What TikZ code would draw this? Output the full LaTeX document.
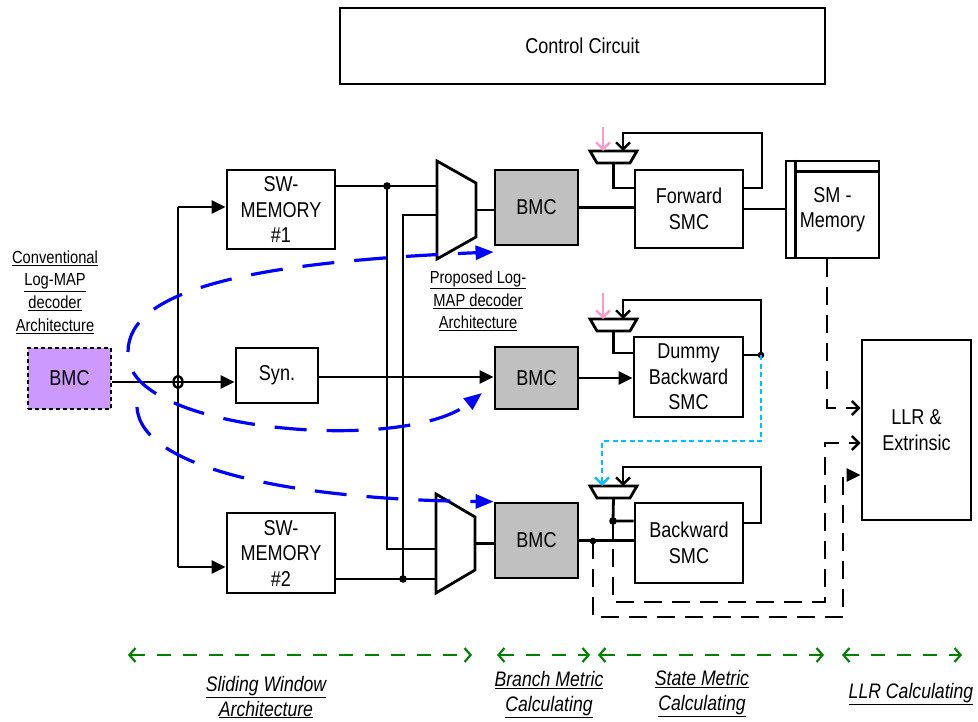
\documentclass[tikz,border=0pt]{standalone}
\usepackage{fontspec}
\setmainfont{Liberation Sans}[FakeStretch=0.84]
\usetikzlibrary{arrows.meta,calc}

\definecolor{bmcgray}{RGB}{192,192,192}
\definecolor{lilac}{RGB}{204,153,255}
\definecolor{feedpink}{RGB}{255,153,204}
\definecolor{skyline}{RGB}{0,190,255}
\definecolor{flowblue}{RGB}{0,0,255}
\definecolor{stagegreen}{RGB}{0,128,0}

\begin{document}
\begin{tikzpicture}[x=1pt,y=-1pt,
  wire/.style={line width=2.8pt},
  blk/.style={draw, line width=2.8pt, inner sep=0pt, align=center,
    font=\fontsize{21.5}{25.5}\selectfont},
  bmcblk/.style={blk, fill=bmcgray, minimum width=83pt},
  port/.style={inner sep=0pt, outer sep=0pt, minimum width=39pt},
  smux/.style={inner sep=0pt, outer sep=0pt, minimum width=47pt, minimum height=12pt},
  fat/.style={-{Triangle[length=14pt,width=13pt]}},
  barb/.style={-{Straight Barb[length=7pt,width=14pt,line width=2.4pt]}},
  dashline/.style={wire, dash pattern=on 18pt off 10pt},
  feed/.style={feedpink, line width=2.4pt, barb},
  flow/.style={flowblue, line width=3.2pt, dash pattern=on 32pt off 20pt,
    -{Triangle[length=18pt,width=14pt]}},
  stage/.style={stagegreen, line width=2.6pt, dash pattern=on 14pt off 12pt,
    {Straight Barb[length=6pt,width=14pt,line width=2.2pt]}-{Straight Barb[length=6pt,width=14pt,line width=2.2pt]}},
  note/.style={align=center, font=\fontsize{17.5}{22.7}\selectfont},
  caption/.style={align=center, font=\itshape\fontsize{21}{25}\selectfont},
]
\useasboundingbox (0,0) rectangle (978,722);

% ---------- blocks ----------
\node[blk, minimum width=485pt, minimum height=76pt] (ctrl) at (582.5,46) {Control Circuit};

\node[blk, dash pattern=on 4pt off 3pt, fill=lilac, minimum width=83pt, minimum height=61pt] (lbmc) at (69.5,378.5) {BMC};
\node[blk, minimum width=108pt, minimum height=79pt] (mem1) at (281,209.5) {SW-\\MEMORY\\\#1};
\node[blk, minimum width=82pt, minimum height=55pt] (syn) at (277,375.5) {Syn.};
\node[blk, minimum width=108pt, minimum height=80pt] (mem2) at (281,553) {SW-\\MEMORY\\\#2};

\node[bmcblk, minimum height=75pt] (bmc1) at (536.5,207.5) {BMC};
\node[bmcblk, minimum height=62pt] (bmc2) at (536.5,378) {BMC};
\node[bmcblk, minimum height=75pt] (bmc3) at (536.5,540.5) {BMC};

\node[blk, minimum width=108pt, minimum height=78pt] (fwd) at (689,209) {Forward\\SMC};
\node[blk, minimum width=109pt, minimum height=80pt] (dum) at (688.5,377) {Dummy\\Backward\\SMC};
\node[blk, minimum width=108pt, minimum height=80pt] (bwd) at (689,543) {Backward\\SMC};

\node[blk, minimum width=93pt, minimum height=97pt] (smm) at (832.5,209.5) {SM -\\Memory};
\draw[wire] ([xshift=11pt]smm.north west) -- ([xshift=11pt]smm.south west);
\draw[wire] ([xshift=11pt,yshift=-12pt]smm.north west) -- ([yshift=-12pt]smm.north east);

\node[blk, minimum width=109pt, minimum height=180pt] (llr) at (916.5,430) {LLR \&\\Extrinsic};

% ---------- multiplexers ----------
\node[port, minimum height=98pt] (mux1) at (456.5,210) {};
\draw[wire] (mux1.north west) -- ([yshift=-22pt]mux1.north east)
  -- ([yshift=22pt]mux1.south east) -- (mux1.south west) -- cycle;
\node[port, minimum height=99pt] (mux2) at (455.5,543.5) {};
\draw[wire] (mux2.north west) -- ([yshift=-23pt]mux2.north east)
  -- ([yshift=23pt]mux2.south east) -- (mux2.south west) -- cycle;

\foreach \m/\yy in {fmux/157, dmux/325, bmux/492}{
  \node[smux] (\m) at (613.5,\yy) {};
  \draw[wire] (\m.north west) -- (\m.north east)
    -- ([xshift=-7pt]\m.south east) -- ([xshift=7pt]\m.south west) -- cycle;
}

% ---------- sliding window input side ----------
\coordinate (busT) at (178,207);
\coordinate (busB) at (178,567);
\coordinate (hub) at (178,382);
\draw[wire] (busT) -- (busB);
\draw[wire, fat] (busT) -- (mem1.west |- busT);
\draw[wire, fat] (busB) -- (mem2.west |- busB);
\draw[wire, fat] (lbmc.east |- hub) -- (syn.west |- hub);
\draw[line width=2.4pt] (hub) ellipse (4.5pt and 6pt);

\coordinate (j1) at (387,186);
\coordinate (j2) at (403,579);
\draw[wire] (mem1.east |- j1) -- (mux1.west |- j1);
\draw[wire] (j1) -- (j1 |- 0,549) -- (mux2.west |- 0,549);
\draw[wire] (mem2.east |- j2) -- (mux2.west |- j2);
\draw[wire] (j2) -- (j2 |- 0,215) -- (mux1.west |- 0,215);
\fill (j1) circle (3.8pt);
\fill (j2) circle (3.8pt);

\draw[wire] (mux1.east) -- (bmc1.west |- mux1.east);
\draw[wire] (mux2.east) -- (bmc3.west |- mux2.east);
\draw[wire, fat] (syn.east |- 0,377) -- (bmc2.west |- 0,377);

% ---------- branch metric to state metric ----------
\draw[wire] (bmc1.east) -- (fwd.west |- bmc1.east);
\draw[wire, fat] (bmc2.east) -- (dum.west |- bmc2.east);
\draw[wire] (bmc3.east) -- (bwd.west |- bmc3.east);
\draw[wire] (fwd.east) -- (smm.west |- fwd.east);

% forward recursion loop
\draw[wire] (fmux.south) -- (fmux.south |- 0,188) -- (fwd.west |- 0,188);
\draw[wire, barb] (fwd.east |- 0,188) -- (762,188) -- (762,133) -- (623,133) -- (fmux.north -| 623,0);
\draw[feed] (603,127) -- (fmux.north -| 603,0);

% dummy backward recursion loop
\coordinate (dtap) at (761,355);
\draw[wire] (dmux.south) -- (dmux.south |- 0,353) -- (dum.west |- 0,353);
\draw[wire] (dum.east |- dtap) -- (dtap);
\draw[wire, barb] (dtap) -- (761,300) -- (623,300) -- (dmux.north -| 623,0);
\fill (dtap) circle (3.3pt);
\draw[feed] (603,293) -- (dmux.north -| 603,0);
\draw[skyline, line width=2.6pt, dash pattern=on 5pt off 3.5pt, barb]
  (dtap) -- (761,441) -- (602,441) -- (bmux.north -| 602,0);

% backward recursion loop
\coordinate (btap) at (613,521);
\coordinate (ctap) at (593,541);
\draw[wire] (bmux.south) -- (btap) -- (bwd.west |- btap);
\draw[wire, barb] (bwd.east |- 0,523) -- (761,523) -- (761,467) -- (623,467) -- (bmux.north -| 623,0);
\fill (btap) circle (3.8pt);
\fill (ctap) circle (3.3pt);

% ---------- into LLR ----------
\draw[dashline, barb] (smm.south -| 827,0) -- (827,408) -- (llr.west |- 0,408);
\draw[dashline, barb] (btap) -- (613,602) -- (825,602) -- (825,443) -- (llr.west |- 0,443);
\draw[dashline, fat] (ctap) -- (593,617) -- (843,617) -- (843,475) -- (llr.west |- 0,475);

% ---------- proposed data flow ----------
\coordinate (fa) at (128,352);
\coordinate (fb) at (133,372);
\coordinate (fc) at (137,407);
\draw[flow] (fa) .. controls (128,290) and (250,262) .. (bmc1.south west |- 0,252);
\draw[flow] (fb) .. controls (170,435) and (410,450) .. (482,393);
\draw[flow] (fc) .. controls (140,470) and (300,500) .. (bmc3.north west);

% ---------- labels ----------
\node[note] at (55,292) {\underline{Conventional}\\\underline{Log-MAP}\\\underline{decoder}\\\underline{Architecture}};
\node[note] at (478,301) {\underline{Proposed Log-}\\\underline{MAP decoder}\\\underline{Architecture}};

% ---------- stages ----------
\draw[stage] (128,655) -- (472,655);
\draw[stage] (497,655) -- (590,655);
\draw[stage] (598,655) -- (824,655);
\draw[stage] (842,655) -- (962,655);

\node[caption] at (266,697) {\underline{Sliding Window}\\\underline{Architecture}};
\node[caption] at (549,695) {\underline{Branch Metric}\\\underline{Calculating}};
\node[caption] at (702,694) {\underline{State Metric}\\\underline{Calculating}};
\node[caption] at (911,694) {\underline{LLR Calculating}};
\end{tikzpicture}
\end{document}
